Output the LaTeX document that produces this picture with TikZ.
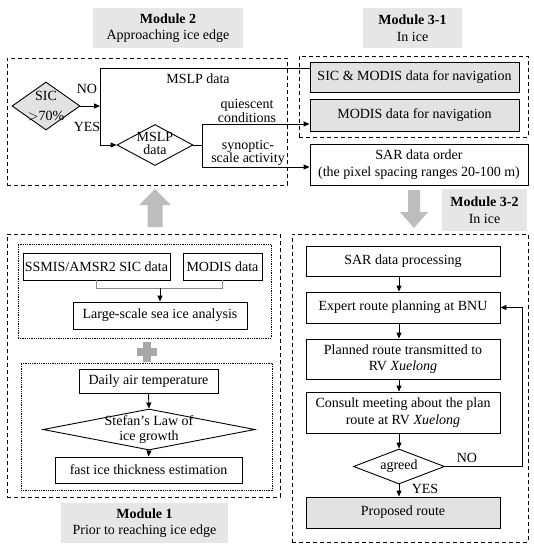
\documentclass[tikz,border=0pt]{standalone}
\usepackage{fontspec}
\setmainfont{Liberation Serif}
\usetikzlibrary{shapes.geometric,arrows.meta,calc}
\definecolor{labgray}{HTML}{E6E6E6}
\definecolor{boxgray}{HTML}{E2E2E2}
\definecolor{bigarrow}{HTML}{BDBDBD}
\definecolor{plusgray}{HTML}{A8A8A8}
\definecolor{linkgray}{HTML}{8C8C8C}
\begin{document}
\begin{tikzpicture}[x=1pt,y=-1pt,
  font=\fontsize{14}{16.5}\selectfont,
  bx/.style={draw, line width=0.9pt, inner sep=0pt, align=center},
  gbx/.style={bx, fill=boxgray},
  lab/.style={fill=labgray, inner sep=0pt, align=center},
  dia/.style={draw, line width=0.9pt, diamond, inner sep=0pt},
  txt/.style={inner sep=0pt, align=center},
  frame/.style={draw, dash pattern=on 4pt off 3pt, line width=1pt, inner sep=0pt},
  dframe/.style={draw, dash pattern=on 0.9pt off 0.9pt, line width=0.9pt, inner sep=0pt},
  arr/.style={line width=0.9pt, -{Triangle[length=6pt,width=5pt]}},
  ln/.style={line width=0.9pt}]
\useasboundingbox (0,0) rectangle (534,550);

% ---------- module labels ----------
\node[lab, minimum width=150, minimum height=40] (m2lab) at (168,28) {\textbf{Module 2}\\Approaching ice edge};
\node[lab, minimum width=99, minimum height=40] (m31lab) at (412.5,28) {\textbf{Module 3-1}\\In ice};
\node[lab, minimum width=85, minimum height=42] (m32lab) at (484.5,210) {\textbf{Module 3-2}\\In ice};
\node[lab, minimum width=167, minimum height=40] (m1lab) at (144.5,523) {\textbf{Module 1}\\Prior to reaching ice edge};

% ---------- frames ----------
\node[frame, minimum width=280, minimum height=127] (m2box) at (147,121.5) {};
\node[frame, minimum width=229, minimum height=81] (m31box) at (413.5,96.5) {};
\node[frame, minimum width=273, minimum height=263] (m1box) at (143.5,365.5) {};
\node[frame, minimum width=236, minimum height=308] (m32box) at (410,388) {};
\node[dframe, minimum width=253, minimum height=94] (d1box) at (144.5,291) {};
\node[dframe, minimum width=251, minimum height=127] (d2box) at (146.5,426.5) {};

% ---------- big gray arrows and plus ----------
\fill[bigarrow] (155,189) -- (171,205) -- (162.5,205) -- (162.5,227) -- (147.5,227) -- (147.5,205) -- (139,205) -- cycle;
\fill[bigarrow] (414,228) -- (428,212) -- (420,212) -- (420,190) -- (408,190) -- (408,212) -- (400,212) -- cycle;
\fill[plusgray] (143,342) rectangle (151,362);
\fill[plusgray] (137,348) rectangle (157,356);

% ---------- Module 2 ----------
\node[dia, fill=boxgray, minimum width=68, minimum height=48] (sic) at (46,106) {};
\node[txt, font=\fontsize{14}{20}\selectfont] (sictxt) at (sic) {SIC\\$>$70\%};
\node[dia, minimum width=76, minimum height=41] (mslp) at (155,145) {};
\node[txt, font=\fontsize{14}{12.5}\selectfont] (mslptxt) at (155,143.5) {MSLP\\data};

\node[txt] (no1) at (87,89) {NO};
\node[txt] (yes1) at (87,127) {YES};
\node[txt] (msl) at (198,79) {MSLP data};
\node[txt, font=\fontsize{14}{12.5}\selectfont] (quies) at (247,111) {quiescent\\conditions};
\node[txt, font=\fontsize{14}{12.5}\selectfont] (synop) at (248,153) {synoptic-\\scale activity};

% ---------- Module 3-1 ----------
\node[gbx, minimum width=209, minimum height=30] (simod) at (414.5,77) {SIC \& MODIS data for navigation};
\node[gbx, minimum width=209, minimum height=32] (modis) at (414.5,115) {MODIS data for navigation};
\node[bx, minimum width=218, minimum height=41] (sar) at (419,164.5) {SAR data order\\(the pixel spacing ranges 20-100 m)};

\coordinate (j1) at (100,106);
\coordinate (jtop) at (100,68);
\coordinate (j2) at (202,145);
\coordinate (ctop) at (202,124);
\coordinate (cbot) at (202,167);
\draw[arr] (sic.east) -- (j1);
\draw[ln] (j1) -- (jtop) -- (jtop -| simod.west);
\draw[arr] (j1) |- (mslp.west);
\draw[ln] (mslp.east) -- (j2);
\draw[arr] (j2) -- (ctop) -- (ctop -| modis.west);
\draw[arr] (j2) -- (cbot) -- (cbot -| sar.west);

% ---------- Module 1 ----------
\node[bx, minimum width=147, minimum height=27] (ssmis) at (96.5,266.5) {SSMIS/AMSR2 SIC data};
\node[bx, minimum width=79, minimum height=27] (modisd) at (222.5,266.5) {MODIS data};
\node[bx, minimum width=174, minimum height=27] (large) at (160,315.5) {Large-scale sea ice analysis};
\draw[line width=0.9pt, linkgray] (ssmis.south) -- ++(0,8) coordinate (lk) -| (modisd.south);
\draw[arr] (lk -| large.north) -- (large.north);

\node[bx, minimum width=139, minimum height=24] (daily) at (148.5,381) {Daily air temperature};
\node[dia, minimum width=212, minimum height=41] (stefan) at (149,429.5) {};
\node[txt, font=\fontsize{14}{15}\selectfont] (stefantxt) at (stefan) {Stefan's Law of\\ice growth};
\node[bx, minimum width=187, minimum height=26] (fast) at (148.5,470) {fast ice thickness estimation};
\draw[arr] (daily.south) -- (stefan.north);
\draw[arr] (stefan.south) -- (fast.north);

% ---------- Module 3-2 ----------
\node[bx, minimum width=194, minimum height=30] (sarp) at (403,261) {SAR data processing};
\node[bx, minimum width=194, minimum height=31] (expert) at (403,307.5) {Expert route planning at BNU};
\node[bx, minimum width=194, minimum height=40] (planned) at (403,359) {Planned route transmitted to\\RV \textit{Xuelong}};
\node[bx, minimum width=194, minimum height=41] (consult) at (403,412.5) {Consult meeting about the plan\\route at RV \textit{Xuelong}};
\node[dia, minimum width=91, minimum height=35] (agreed) at (399,466.5) {};
\node[txt] (agreedtxt) at (agreed) {agreed};
\node[gbx, minimum width=194, minimum height=31] (proposed) at (403,512.5) {Proposed route};

\draw[arr] (agreed.north |- sarp.south) -- (agreed.north |- expert.north);
\draw[arr] (agreed.north |- expert.south) -- (agreed.north |- planned.north);
\draw[arr] (agreed.north |- planned.south) -- (agreed.north |- consult.north);
\draw[arr] (agreed.north |- consult.south) -- (agreed.north);
\draw[arr] (agreed.south) -- (agreed.south |- proposed.north);
\coordinate (loop) at (522,466.5);
\draw[arr] (agreed.east) -- (loop) |- (expert.east);
\node[txt] (no2) at (467,458) {NO};
\node[txt] (yes2) at (425,489) {YES};
\end{tikzpicture}
\end{document}
